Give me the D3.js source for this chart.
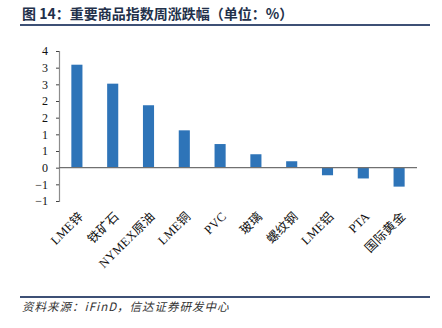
<!DOCTYPE html>
<html>
<head>
<meta charset="utf-8">
<script src="https://cdn.jsdelivr.net/npm/d3@7"></script>
<style>
  html, body { margin: 0; padding: 0; background: #fff; }
  svg { display: block; }
</style>
</head>
<body>
<svg id="chart" width="442" height="328"></svg>
<script>
// Weekly change of major commodity indices (%)
const categories = ["LME锌", "铁矿石", "NYMEX原油", "LME铜", "PVC", "玻璃", "螺纹钢", "LME铝", "PTA", "国际黄金"];
const changes = [3.53, 2.88, 2.14, 1.28, 0.81, 0.46, 0.22, -0.26, -0.37, -0.65];
// Axis runs from -8/7 to 4 in steps of 4/7, labels shown as whole numbers
const yTicks = d3.range(0, 10).map(i => 4 - i * 4 / 7);

const svg = d3.select("#chart");
const serif = "'Liberation Serif', 'Times New Roman', 'Noto Sans CJK SC', serif";

const x = d3.scaleBand().domain(categories).range([59, 417]).paddingInner(0.69).paddingOuter(0.345);
const y = d3.scaleLinear().domain([-8 / 7, 4]).range([201, 51]);

// Title and rule beneath it
svg.append("text")
  .attr("x", 22).attr("y", 19)
  .attr("font-family", "'Noto Sans CJK SC', sans-serif")
  .attr("font-weight", "bold")
  .attr("font-size", 14)
  .attr("fill", "#22304a")
  .text("图 14：重要商品指数周涨跌幅（单位：%）");
svg.append("line")
  .attr("x1", 20).attr("x2", 430).attr("y1", 25).attr("y2", 25)
  .attr("stroke", "#3d5075").attr("stroke-width", 2);

// Bars
svg.append("g").selectAll("rect")
  .data(changes)
  .join("rect")
  .attr("x", (d, i) => x(categories[i]))
  .attr("width", x.bandwidth())
  .attr("y", d => y(Math.max(0, d)))
  .attr("height", d => Math.abs(y(d) - y(0)))
  .attr("fill", "#2e74b8");

// Left axis with outward ticks
const yAxis = d3.axisLeft(y)
  .tickValues(yTicks)
  .tickFormat(d => d3.format(".0f")(Math.round(d)))
  .tickSize(3)
  .tickSizeOuter(3);
const gy = svg.append("g").attr("transform", "translate(59,0)").call(yAxis);
gy.select(".domain").attr("stroke", "#8c8c8c").attr("stroke-width", 1.2);
gy.selectAll(".tick line").attr("stroke", "#444");
gy.selectAll(".tick text")
  .attr("font-family", serif)
  .attr("font-size", 12)
  .attr("fill", "#111")
  .attr("x", -11);

// Zero line
svg.append("line")
  .attr("x1", 59).attr("x2", 417)
  .attr("y1", y(0)).attr("y2", y(0))
  .attr("stroke", "#707070").attr("stroke-width", 1.2);

// Rotated category labels
svg.append("g").selectAll("text")
  .data(categories)
  .join("text")
  .attr("transform", d => `translate(${x(d) + x.bandwidth() / 2 + 4},${214}) rotate(-45)`)
  .attr("text-anchor", "end")
  .attr("dy", "0.35em")
  .attr("font-family", serif)
  .attr("font-size", 12.5)
  .attr("letter-spacing", 0.3)
  .attr("fill", "#111")
  .text(d => d);

// Source note and rule above it
svg.append("line")
  .attr("x1", 20).attr("x2", 430).attr("y1", 297).attr("y2", 297)
  .attr("stroke", "#3d5075").attr("stroke-width", 2);
svg.append("text")
  .attr("x", 22).attr("y", 311)
  .attr("font-family", "'Noto Sans CJK SC', sans-serif")
  .attr("font-style", "italic")
  .attr("font-size", 11.5)
  .attr("letter-spacing", 1)
  .attr("fill", "#333")
  .text("资料来源：iFinD，信达证券研发中心");
</script>
</body>
</html>
